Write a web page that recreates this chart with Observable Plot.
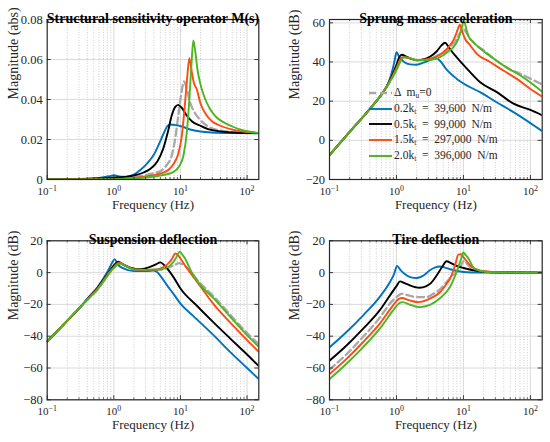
<!DOCTYPE html>
<html>
<head>
<meta charset="utf-8">
<script src="https://cdn.jsdelivr.net/npm/d3@7"></script>
<script src="https://cdn.jsdelivr.net/npm/@observablehq/plot@0.6"></script>
<style>
  html, body { margin: 0; padding: 0; background: #fff; }
  #chart { position: relative; width: 550px; height: 442px; overflow: hidden; font-family: "Liberation Serif", "Times New Roman", serif; }
  #chart svg.panel { position: absolute; }
  #legend { position: absolute; left: 368px; top: 85px; font-size: 11.5px; color: #262626; line-height: 15.8px; white-space: pre; }
  #legend .row { display: flex; align-items: center; height: 15.8px; }
  #legend svg { width: 25px; height: 6px; margin-right: 1px; }
  #legend sub { font-size: 0.65em; vertical-align: -0.25em; line-height: 0; }
</style>
</head>
<body>
<div id="chart"></div>
<script>
// ---------- axis ticks ----------
const freqMajor = [0.1, 1, 10, 100];
const freqMajorLabels = ["10^-1", "10^0", "10^1", "10^2"];
const freqMinor = [0.2,0.3,0.4,0.5,0.6,0.7,0.8,0.9,2,3,4,5,6,7,8,9,20,30,40,50,60,70,80,90];
const freqDomain = [0.1, 150];

const sensTicks = [0, 0.02, 0.04, 0.06, 0.08];
const sensTickLabels = ["0", "0.02", "0.04", "0.06", "0.08"];
const accTicks = [-20, 0, 20, 40, 60];
const accTickLabels = ["\u221220", "0", "20", "40", "60"];
const defTicks = [-80, -60, -40, -20, 0, 20];
const defTickLabels = ["\u221280", "\u221260", "\u221240", "\u221220", "0", "20"];

// ---------- series ----------
const seriesKeys = ["gray", "blue", "black", "orange", "green"];
const legendLabels = [
  ["\u0394  m", "u", "=0"],
  ["0.2k", "t", "  =  39,600  N/m"],
  ["0.5k", "t", "  =  99,000  N/m"],
  ["1.5k", "t", "  =  297,000  N/m"],
  ["2.0k", "t", "  =  396,000  N/m"]
];

// Panel 1: Structural sensitivity operator M(s)  [freq Hz, magnitude abs]
const sensGray = [[0.1,0],[0.5,0.0002],[1,0.0004],[2,0.0012],[3,0.0022],[4,0.0032],[5.2,0.0045],[6.3,0.0075],[7.4,0.012],[8.3,0.02],[9.3,0.032],[10.3,0.043],[11.3,0.049],[12.3,0.046],[13.9,0.0387],[16,0.034],[19.6,0.030],[27.8,0.026],[40,0.0245],[70,0.0236],[150,0.0232]];
const sensBlue = [[0.1,0.0001],[0.3,0.0003],[0.6,0.0008],[0.85,0.0016],[1.0,0.0021],[1.15,0.0017],[1.4,0.0014],[1.7,0.0017],[2.0,0.0025],[2.5,0.0048],[3.0,0.0072],[3.5,0.0098],[4.0,0.0125],[4.8,0.018],[5.5,0.0225],[6.3,0.0265],[7.0,0.0275],[8.5,0.0272],[10.5,0.0265],[14,0.025],[20,0.024],[30,0.0235],[60,0.0232],[150,0.0231]];
const sensBlack = [[0.1,0.0001],[0.5,0.0004],[1,0.0009],[1.5,0.0013],[2,0.002],[2.8,0.0035],[3.5,0.0053],[4.5,0.009],[5.5,0.0153],[6.5,0.024],[7.4,0.032],[8.3,0.0362],[9.3,0.0373],[10.5,0.0358],[12.4,0.032],[15,0.029],[19.6,0.027],[26,0.0252],[35,0.0243],[60,0.0235],[150,0.0232]];
const sensOrange = [[0.1,0],[1,0.0003],[2,0.0008],[3,0.0015],[4,0.0022],[5,0.003],[6.2,0.0042],[7.4,0.0065],[8.3,0.009],[9.3,0.013],[10.5,0.022],[11.7,0.038],[12.7,0.052],[13.6,0.0607],[14.8,0.0537],[16,0.048],[17.5,0.0453],[20,0.038],[24.8,0.032],[30,0.029],[39,0.027],[78,0.0242],[150,0.0233]];
const sensGreen = [[0.1,0],[1,0.0002],[3,0.001],[5,0.002],[7.8,0.0037],[9.5,0.0065],[11.1,0.012],[12.5,0.024],[13.6,0.04],[14.6,0.057],[15.6,0.0695],[16.7,0.064],[18,0.055],[19.6,0.0487],[23,0.041],[27.8,0.0353],[35,0.031],[44,0.0287],[60,0.0265],[88,0.0245],[150,0.0233]];

// Panel 2: Sprung mass acceleration [freq Hz, dB]
const accGray = [[0.1,-7.5],[0.2,4.3],[0.4,16],[0.63,24.5],[0.7,26.8],[0.85,31.5],[1.0,36],[1.15,40.5],[1.3,42.5],[1.6,42],[2.0,41],[2.7,41.2],[3.4,42],[4.2,43.5],[4.9,44.5],[6.5,48],[7.7,51],[9.0,55],[10.0,57],[11,55],[12.5,52],[15,49],[20,46],[25,43.2],[44,37.3],[75,33.5],[113,30.6],[150,28.5]];
const accBlue = [[0.1,-7.5],[0.2,4.3],[0.4,16],[0.63,24.5],[0.75,29],[0.85,34.5],[0.93,40],[1.0,45],[1.1,42.5],[1.3,40],[1.6,38.8],[2.0,38.6],[2.6,39.8],[3.3,41.2],[3.9,42],[4.5,40.5],[5.5,36.5],[7.9,31.5],[12,27.5],[17.7,24.6],[30,19.8],[56,14.4],[100,8.8],[150,4.7]];
const accBlack = [[0.1,-7.5],[0.2,4.3],[0.4,16],[0.63,24.5],[0.7,27],[0.85,32.5],[1.0,38.5],[1.1,42.5],[1.2,43.7],[1.4,42.8],[1.7,41.5],[2.0,41],[2.5,41.3],[3.2,42.8],[4.0,45.5],[4.7,48.5],[5.3,49.8],[5.8,48.5],[6.5,46],[7.9,42.5],[10,38.5],[12.6,34.8],[18,29.5],[31.6,24.6],[56,18.7],[100,15.5],[150,12.8]];
const accOrange = [[0.1,-7.5],[0.2,4.3],[0.4,16],[0.63,24.5],[0.7,27],[0.85,32],[1.0,37],[1.15,41.5],[1.25,42.5],[1.5,42],[2.0,41],[2.7,41.3],[3.4,42],[4.0,42.8],[5.0,45],[6.3,48.5],[7.4,52.5],[8.2,56.5],[8.8,59],[9.5,56],[10.5,52],[12.6,48.5],[16,44],[25,40],[40,35.5],[62,31.5],[100,26.2],[150,22.3]];
const accGreen = [[0.1,-7.5],[0.2,4.3],[0.4,16],[0.63,24.5],[0.7,26.8],[0.85,31.5],[1.0,36],[1.15,40.5],[1.3,42.5],[1.6,42],[2.0,40.8],[2.7,41],[3.4,41.3],[4.0,41.7],[5.0,43.5],[6.0,45.5],[7.1,47.6],[8.2,51],[9.2,56],[10.2,61.2],[11,57],[12,53],[14.1,50.2],[20,45.5],[28.4,41.7],[45,37],[70,33.2],[100,29.5],[150,24.8]];

// Panel 3: Suspension deflection [freq Hz, dB]
const suspGray = [[0.1,-43.2],[0.178,-32.5],[0.316,-21.5],[0.45,-15],[0.56,-11],[0.7,-5.5],[0.85,-0.5],[1.0,3],[1.22,5.5],[1.5,4.2],[2.0,2],[3,1.5],[5,1.7],[7,3.5],[8.4,5],[9.5,6],[10.5,5.5],[12.6,3],[17.8,-4.5],[31.6,-15],[56,-26.5],[100,-38],[150,-45]];
const suspBlue = [[0.1,-43.2],[0.178,-32.5],[0.316,-21.5],[0.45,-14],[0.56,-9.5],[0.7,-3.5],[0.85,2.5],[0.95,6.5],[1.03,8.5],[1.15,5],[1.4,2.6],[2.0,0.9],[3.16,0.9],[3.9,1.3],[4.4,0.5],[5.0,-2],[6.3,-8],[7.9,-13.5],[10,-19.5],[15.8,-27.5],[31.6,-39.5],[56,-50],[100,-60],[150,-67]];
const suspBlack = [[0.1,-43.2],[0.178,-32.5],[0.316,-21.5],[0.45,-14.3],[0.56,-10],[0.7,-4.5],[0.85,0.5],[1.0,4.5],[1.16,6.8],[1.4,5],[1.8,3],[2.5,2.2],[3.5,3.6],[4.3,5.2],[5.0,6.4],[5.6,5],[6.3,2.6],[7.9,-3],[10,-10],[17.8,-21],[31.6,-31.5],[56,-41.5],[100,-51.5],[150,-58.8]];
const suspOrange = [[0.1,-43.2],[0.178,-32.5],[0.316,-21.5],[0.45,-14.6],[0.56,-10.5],[0.7,-5],[0.85,0],[1.0,3.5],[1.19,6.3],[1.5,4.5],[2.0,2],[3,1.7],[4.5,2],[5.6,3.5],[6.3,5],[7.3,8],[8.4,12],[9.2,11],[10,8.9],[12.6,2.6],[17.8,-5.8],[31.6,-20],[56,-31.5],[100,-42.5],[150,-49.8]];
const suspGreen = [[0.1,-43.2],[0.178,-32.5],[0.316,-21.5],[0.45,-15],[0.56,-11],[0.7,-5.5],[0.85,-0.5],[1.0,3],[1.22,5.7],[1.5,4.3],[2.0,2],[3,1.7],[5,2],[7.1,4.7],[8.4,8.5],[9.8,13.1],[10.8,11],[11.9,8.4],[14.6,0.5],[20,-8],[31.6,-16.2],[56,-27.8],[100,-39.3],[150,-46.7]];

// Panel 4: Tire deflection [freq Hz, dB]
const tireGray = [[0.1,-61],[0.178,-51.5],[0.316,-40.5],[0.56,-28.5],[0.8,-19.5],[1.0,-15.4],[1.2,-13.3],[1.5,-14.3],[2.0,-15.4],[2.8,-15.4],[3.5,-13.5],[4.6,-10],[5.6,-6],[7,-1.5],[8.9,3],[9.7,6.5],[10.5,7.5],[11.5,5],[13,3],[17.8,1],[31.6,0.1],[150,0]];
const tireBlue = [[0.1,-47],[0.178,-37.5],[0.316,-27],[0.56,-15.4],[0.8,-5.9],[0.92,-1],[1.02,4.2],[1.15,1.5],[1.3,-0.6],[1.6,-2.8],[2.0,-3.4],[2.6,-1.5],[3.16,1.5],[3.8,3.3],[4.4,3.8],[5.2,3.3],[6.3,2.1],[10,0.4],[17.8,0],[150,0]];
const tireBlack = [[0.1,-55.4],[0.178,-46],[0.316,-35.4],[0.56,-23.8],[0.8,-14.3],[1.0,-8.5],[1.13,-5.5],[1.3,-6.5],[1.58,-8],[2.2,-9.5],[2.8,-8.5],[3.3,-6.5],[4.0,-1.7],[4.8,3.5],[5.6,7.1],[6.5,6],[7.9,4.2],[10,2.9],[17.8,0.8],[31.6,0.1],[150,0]];
const tireOrange = [[0.1,-63.8],[0.178,-54.4],[0.316,-43.8],[0.56,-32.2],[0.89,-20.6],[1.05,-17],[1.19,-16],[1.58,-17.5],[2.1,-18.6],[3.16,-16.4],[4.5,-12.2],[5.6,-7],[6.3,-3.8],[7.5,4.6],[8.4,11.3],[9.2,11.5],[10,9.8],[12.6,4.6],[17.8,1.2],[31.6,0.2],[150,0]];
const tireGreen = [[0.1,-67],[0.178,-57.5],[0.316,-47],[0.56,-35.4],[0.89,-23.8],[1.05,-20],[1.22,-18.6],[1.6,-20.2],[2.2,-21.7],[3.16,-20.3],[4.5,-16],[6.3,-9.1],[7.9,0.4],[9.3,9],[10,12.6],[10.8,11],[11.9,8.8],[14.6,2.5],[22.4,0.4],[40,0],[150,0]];

// ---------- styles ----------
const seriesStyle = {
  gray:   {stroke: "#a8a8a8", strokeWidth: 2.3, strokeDasharray: "7,4"},
  blue:   {stroke: "#0072bd", strokeWidth: 1.9},
  black:  {stroke: "#000000", strokeWidth: 1.9},
  orange: {stroke: "#ff4a12", strokeWidth: 1.9},
  green:  {stroke: "#4cb520", strokeWidth: 1.9}
};
const axisColor = "#262626";
const W = 275, H = 221;

function panel(cfg) {
  const m = cfg.margin;
  const iw = W - m.left - m.right, ih = H - m.top - m.bottom;
  const lines = seriesKeys.map((k, i) =>
    Plot.line(cfg.series[i], {x: d => d[0], y: d => d[1], curve: "monotone-x", clip: true, ...seriesStyle[k]})
  );
  const tickStyle = {stroke: axisColor, strokeWidth: 0.9};
  const svg = Plot.plot({
    width: W, height: H,
    marginTop: m.top, marginRight: m.right, marginBottom: m.bottom, marginLeft: m.left,
    x: {type: "log", domain: freqDomain, axis: null},
    y: {domain: cfg.yDomain, axis: null},
    style: {fontFamily: "'Liberation Serif', 'Times New Roman', serif", background: "transparent", overflow: "visible", color: axisColor},
    marks: [
      Plot.ruleX(freqMinor, {x: d => d, stroke: "#b8b8b8", strokeWidth: 0.7, strokeDasharray: "1,1.6"}),
      Plot.ruleX(freqMajor.slice(1), {x: d => d, stroke: "#d6d6d6", strokeWidth: 0.9}),
      Plot.ruleY(cfg.yTicks, {y: d => d, stroke: "#d6d6d6", strokeWidth: 0.9}),
      ...lines,
      // inward ticks on all sides
      Plot.ruleX(freqMajor, {x: d => d, ...tickStyle, insetTop: ih - 4}),
      Plot.ruleX(freqMajor, {x: d => d, ...tickStyle, insetBottom: ih - 4}),
      Plot.ruleX(freqMinor, {x: d => d, ...tickStyle, strokeWidth: 0.7, insetTop: ih - 2}),
      Plot.ruleX(freqMinor, {x: d => d, ...tickStyle, strokeWidth: 0.7, insetBottom: ih - 2}),
      Plot.ruleY(cfg.yTicks, {y: d => d, ...tickStyle, insetRight: iw - 4}),
      Plot.ruleY(cfg.yTicks, {y: d => d, ...tickStyle, insetLeft: iw - 4}),
      Plot.frame({stroke: axisColor, strokeWidth: 1.2}),
      // tick labels
      Plot.text(freqMajor, {x: d => d, text: (d, i) => freqMajorLabels[i], frameAnchor: "bottom", dy: 15, fontSize: 11, fill: axisColor}),
      Plot.text(cfg.yTicks, {y: d => d, text: (d, i) => cfg.yTickLabels[i], frameAnchor: "left", dx: -4.5, textAnchor: "end", fontSize: 12.5, fill: axisColor}),
      // titles
      Plot.text([cfg.title], {frameAnchor: "top", dy: -6.4, fontSize: 14, fontWeight: "bold", fill: "#000"}),
      Plot.text(["Frequency (Hz)"], {frameAnchor: "bottom", dy: 29.5, fontSize: 13, fill: axisColor}),
      Plot.text([cfg.yLabel], {frameAnchor: "left", dx: cfg.yLabelDx, rotate: -90, fontSize: 14, fill: axisColor})
    ]
  });
  // superscripts for 10^n labels
  d3.select(svg).selectAll("text").each(function () {
    const t = this.textContent;
    const mm = /^10\^(.+)$/.exec(t);
    if (mm) {
      const sel = d3.select(this);
      sel.text("10");
      sel.append("tspan").attr("dy", "-0.5em").attr("font-size", "0.72em").text(mm[1].replace("-", "\u2212"));
    }
  });
  svg.classList.add("panel");
  svg.style.left = cfg.left + "px";
  svg.style.top = cfg.top + "px";
  return svg;
}

const chart = document.getElementById("chart");
chart.appendChild(panel({
  left: 0, top: 0, margin: {top: 19, right: 16.7, bottom: 42, left: 46.7},
  series: [sensGray, sensBlue, sensBlack, sensOrange, sensGreen],
  yDomain: [0, 0.08], yTicks: sensTicks, yTickLabels: sensTickLabels,
  title: "Structural sensitivity operator M(s)", yLabel: "Magnitude (abs)", yLabelDx: -33.5
}));
chart.appendChild(panel({
  left: 275, top: 0, margin: {top: 19, right: 8.3, bottom: 42, left: 54},
  series: [accGray, accBlue, accBlack, accOrange, accGreen],
  yDomain: [-20, 61.7], yTicks: accTicks, yTickLabels: accTickLabels,
  title: "Sprung mass acceleration", yLabel: "Magnitude (dB)", yLabelDx: -35
}));
chart.appendChild(panel({
  left: 0, top: 221, margin: {top: 19.3, right: 16.7, bottom: 42.7, left: 46.7},
  series: [suspGray, suspBlue, suspBlack, suspOrange, suspGreen],
  yDomain: [-80, 20], yTicks: defTicks, yTickLabels: defTickLabels,
  title: "Suspension deflection", yLabel: "Magnitude (dB)", yLabelDx: -33.5
}));
chart.appendChild(panel({
  left: 275, top: 221, margin: {top: 19.3, right: 8.3, bottom: 42.7, left: 54},
  series: [tireGray, tireBlue, tireBlack, tireOrange, tireGreen],
  yDomain: [-80, 20], yTicks: defTicks, yTickLabels: defTickLabels,
  title: "Tire deflection", yLabel: "Magnitude (dB)", yLabelDx: -35
}));

// legend (in sprung mass acceleration panel)
const legend = document.createElement("div");
legend.id = "legend";
seriesKeys.forEach((k, i) => {
  const s = seriesStyle[k];
  const row = document.createElement("div");
  row.className = "row";
  const lab = legendLabels[i];
  row.innerHTML =
    `<svg viewBox="0 0 25 6"><line x1="1" y1="3" x2="24" y2="3" stroke="${s.stroke}" stroke-width="${s.strokeWidth}" ${s.strokeDasharray ? `stroke-dasharray="${s.strokeDasharray}"` : ""}/></svg>` +
    `<span>${lab[0]}<sub>${lab[1]}</sub>${lab[2]}</span>`;
  legend.appendChild(row);
});
chart.appendChild(legend);
</script>
</body>
</html>
